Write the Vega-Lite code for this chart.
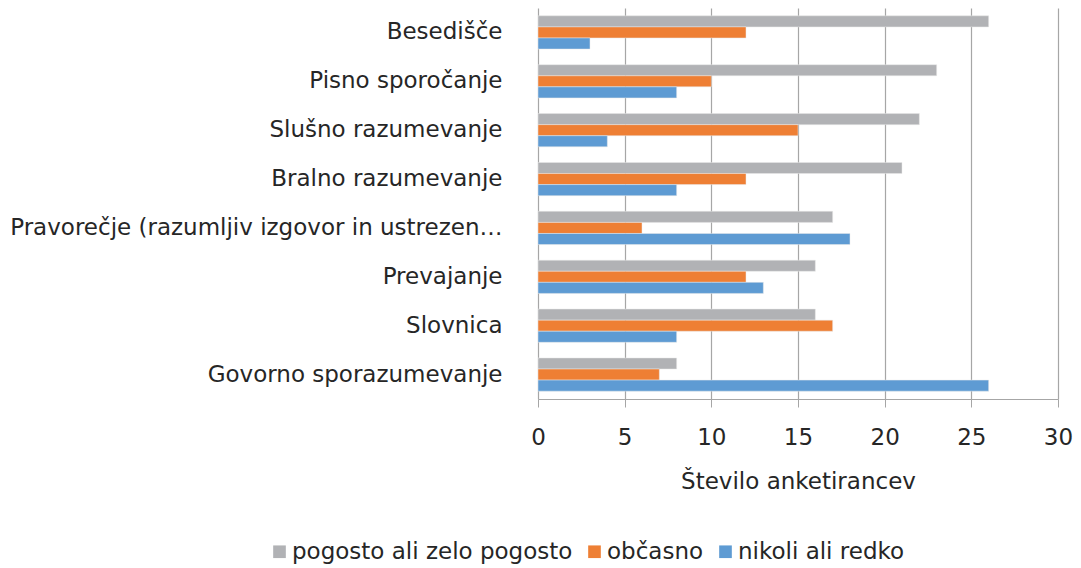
{
  "$schema": "https://vega.github.io/schema/vega-lite/v6.json",
  "width": 520,
  "height": 391,
  "autosize": {"type": "none"},
  "padding": {"left": 538, "top": 8, "right": 23, "bottom": 169},
  "background": "white",
  "config": {
    "font": "DejaVu Sans",
    "view": {"stroke": null}
  },
  "data": {
    "values": [
      {"cat": "Besedišče", "s": "pogosto ali zelo pogosto", "v": 26},
      {"cat": "Besedišče", "s": "občasno", "v": 12},
      {"cat": "Besedišče", "s": "nikoli ali redko", "v": 3},
      {"cat": "Pisno sporočanje", "s": "pogosto ali zelo pogosto", "v": 23},
      {"cat": "Pisno sporočanje", "s": "občasno", "v": 10},
      {"cat": "Pisno sporočanje", "s": "nikoli ali redko", "v": 8},
      {"cat": "Slušno razumevanje", "s": "pogosto ali zelo pogosto", "v": 22},
      {"cat": "Slušno razumevanje", "s": "občasno", "v": 15},
      {"cat": "Slušno razumevanje", "s": "nikoli ali redko", "v": 4},
      {"cat": "Bralno razumevanje", "s": "pogosto ali zelo pogosto", "v": 21},
      {"cat": "Bralno razumevanje", "s": "občasno", "v": 12},
      {"cat": "Bralno razumevanje", "s": "nikoli ali redko", "v": 8},
      {"cat": "Pravorečje (razumljiv izgovor in ustrezen…", "s": "pogosto ali zelo pogosto", "v": 17},
      {"cat": "Pravorečje (razumljiv izgovor in ustrezen…", "s": "občasno", "v": 6},
      {"cat": "Pravorečje (razumljiv izgovor in ustrezen…", "s": "nikoli ali redko", "v": 18},
      {"cat": "Prevajanje", "s": "pogosto ali zelo pogosto", "v": 16},
      {"cat": "Prevajanje", "s": "občasno", "v": 12},
      {"cat": "Prevajanje", "s": "nikoli ali redko", "v": 13},
      {"cat": "Slovnica", "s": "pogosto ali zelo pogosto", "v": 16},
      {"cat": "Slovnica", "s": "občasno", "v": 17},
      {"cat": "Slovnica", "s": "nikoli ali redko", "v": 8},
      {"cat": "Govorno sporazumevanje", "s": "pogosto ali zelo pogosto", "v": 8},
      {"cat": "Govorno sporazumevanje", "s": "občasno", "v": 7},
      {"cat": "Govorno sporazumevanje", "s": "nikoli ali redko", "v": 26}
    ]
  },
  "mark": {"type": "bar", "stroke": "#e8e8e8", "strokeWidth": 0.5},
  "encoding": {
    "y": {
      "field": "cat",
      "type": "nominal",
      "sort": null,
      "scale": {"paddingInner": 0.32, "paddingOuter": 0.16},
      "axis": {
        "title": null,
        "domain": false,
        "ticks": false,
        "labelFontSize": 23,
        "labelColor": "#262626",
        "labelPadding": 36,
        "labelLimit": 700
      }
    },
    "yOffset": {
      "field": "s",
      "type": "nominal",
      "sort": ["pogosto ali zelo pogosto", "občasno", "nikoli ali redko"],
      "scale": {"paddingInner": 0, "paddingOuter": 0}
    },
    "x": {
      "field": "v",
      "type": "quantitative",
      "scale": {"domain": [0, 30]},
      "axis": {
        "values": [0, 5, 10, 15, 20, 25, 30],
        "title": "Število anketirancev",
        "titleFontSize": 23,
        "titleFontWeight": "normal",
        "titleColor": "#262626",
        "titlePadding": 21,
        "labelFontSize": 23,
        "labelColor": "#262626",
        "labelPadding": 19,
        "labelFlush": false,
        "domainColor": "#a6a6a6",
        "tickColor": "#a6a6a6",
        "tickSize": 8,
        "gridColor": "#a6a6a6",
        "gridWidth": 1.2
      }
    },
    "color": {
      "field": "s",
      "type": "nominal",
      "sort": ["pogosto ali zelo pogosto", "občasno", "nikoli ali redko"],
      "scale": {
        "domain": ["pogosto ali zelo pogosto", "občasno", "nikoli ali redko"],
        "range": ["#b1b2b5", "#ee7f34", "#5e9bd3"]
      },
      "legend": {
        "title": null,
        "orient": "none",
        "legendX": -270,
        "legendY": 532,
        "direction": "horizontal",
        "symbolType": "square",
        "symbolSize": 160,
        "symbolStrokeWidth": 0,
        "labelFontSize": 23,
        "labelColor": "#262626",
        "labelOffset": 1,
        "labelLimit": 400,
        "columnPadding": 10
      }
    }
  }
}
